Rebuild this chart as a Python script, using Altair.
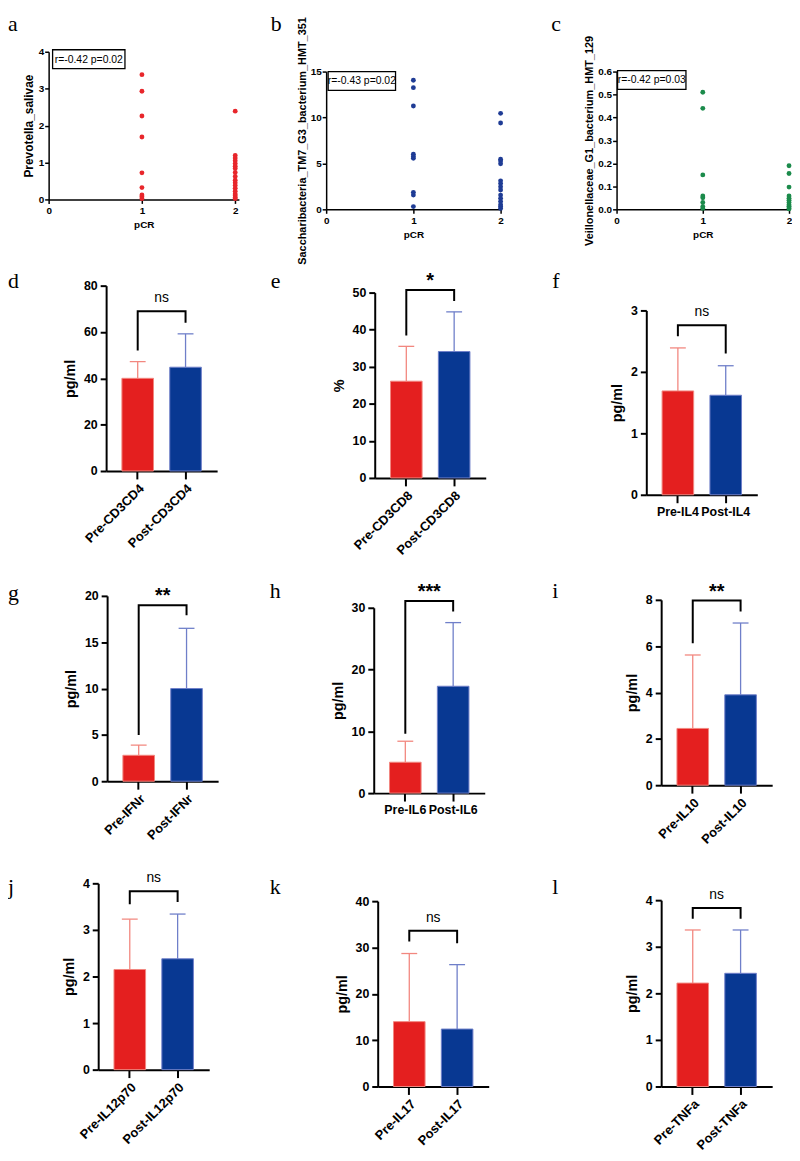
import altair as alt
import pandas as pd

FONT = "Liberation Sans"
SERIF = "Liberation Serif"

RED = "#E41F1F"
BLUE = "#083892"
RED_L = "#F2877F"
BLUE_L = "#6F7FC9"
DOT_COLORS = ["#E8262B", "#1F3C95", "#1B8B4B"]

# ---------------- top row (a-c): scatter values
scatter_letters = ["a", "b", "c"]
scatter_titles = ["Prevotella_salivae",
                  "Saccharibacteria_TM7_G3_bacterium_HMT_351",
                  "Veillonellaceae_G1_bacterium_HMT_129"]
scatter_stats = ["r=-0.42 p=0.02", "r=-0.43 p=0.02", "r=-0.42 p=0.03"]
pcr_ticks = [0, 1, 2]

a_pcr1 = [3.38, 2.93, 2.26, 1.69, 0.72, 0.32, 0.12, 0.07, 0.02]
a_pcr2 = [2.39, 1.19, 1.12, 1.05, 0.97, 0.90, 0.84, 0.73, 0.62, 0.52, 0.45,
          0.38, 0.30, 0.22, 0.15, 0.10, 0.05, 0.02]
b_pcr1 = [14.05, 13.25, 11.25, 6.0, 5.75, 5.55, 1.85, 1.55, 0.3]
b_pcr2 = [10.45, 9.4, 5.45, 5.25, 4.95, 3.1, 2.8, 2.45, 2.1, 1.55, 1.2,
          0.85, 0.5, 0.3, 0.1]
c_pcr1 = [0.51, 0.44, 0.15, 0.058, 0.05, 0.03, 0.012, 0.004]
c_pcr2 = [0.19, 0.156, 0.097, 0.058, 0.048, 0.04, 0.03, 0.02, 0.013,
          0.006, 0.002]

scatter_pcr1 = [a_pcr1, b_pcr1, c_pcr1]
scatter_pcr2 = [a_pcr2, b_pcr2, c_pcr2]
scatter_yticks = [[0, 1, 2, 3, 4], [0, 5, 10, 15],
                  [0.0, 0.1, 0.2, 0.3, 0.4, 0.5, 0.6]]
scatter_ymax = [4, 15, 0.6]
scatter_fmt = [".0f", ".0f", ".1f"]

# ---------------- bar panels (d-l)
bar_letters = ["d", "e", "f", "g", "h", "i", "j", "k", "l"]
pre_labels = ["Pre-CD3CD4", "Pre-CD3CD8", "Pre-IL4", "Pre-IFNr", "Pre-IL6",
              "Pre-IL10", "Pre-IL12p70", "Pre-IL17", "Pre-TNFa"]
post_labels = ["Post-CD3CD4", "Post-CD3CD8", "Post-IL4", "Post-IFNr", "Post-IL6",
               "Post-IL10", "Post-IL12p70", "Post-IL17", "Post-TNFa"]
pre_mean = [40.0, 26.1, 1.69, 2.8, 5.0, 2.45, 2.15, 14.0, 2.22]
post_mean = [44.8, 34.1, 1.62, 10.0, 17.3, 3.9, 2.38, 12.4, 2.43]
pre_upper = [47.2, 35.5, 2.39, 3.9, 8.4, 5.62, 3.23, 28.7, 3.36]
post_upper = [59.2, 44.8, 2.10, 16.5, 27.6, 7.0, 3.34, 26.3, 3.36]
bracket_top = [69.0, 50.7, 2.76, 19.0, 31.1, 7.97, 3.83, 33.6, 3.83]
bracket_left = [52.0, 38.4, 2.58, 5.0, 9.6, 6.13, 3.55, 31.3, 3.6]
bracket_right = [64.0, 47.7, 2.30, 17.9, 29.4, 7.5, 3.6, 30.9, 3.6]
sig_labels = ["ns", "*", "ns", "**", "***", "**", "ns", "ns", "ns"]
y_titles = ["pg/ml", "%", "pg/ml", "pg/ml", "pg/ml", "pg/ml", "pg/ml", "pg/ml", "pg/ml"]
y_max = [80, 50, 3, 20, 30, 8, 4, 40, 4]
y_step = [20, 10, 1, 5, 10, 2, 1, 10, 1]
label_angle = [-45, -45, 0, -45, 0, -45, -45, -45, -45]

GRP_DOMAIN = ["Pre", "Post"]

# ---------------- layout (page pixels)
COL_LEFT = [8, 329, 622]
COL_W = [321, 293, 176]
ROW_TOP = [8, 270, 585, 880]
ROW_H = [262, 315, 295, 211]


def scatter_panel(i, axis_x, W, zero_y, top_y, xmax, title_size, letter_x, box):
    c, r = i, 0
    cl, rt = COL_LEFT[c], ROW_TOP[r]
    PW, PH = COL_W[c], ROW_H[r]
    r0 = axis_x - cl
    hb = zero_y - rt
    yt = top_y - rt
    v1, v2 = scatter_pcr1[i], scatter_pcr2[i]
    df = pd.DataFrame({"pCR": [1] * len(v1) + [2] * len(v2), "value": v1 + v2})
    xax = alt.Axis(values=pcr_ticks, title="pCR", format=".0f", labelFlush=False,
                   labelOverlap=False, labelSeparation=0,
                   domainWidth=1.5, tickWidth=1.5, tickSize=4, labelFontSize=10,
                   labelFontWeight="bold", titleFontSize=10, titleFontWeight="bold",
                   labelPadding=2, titlePadding=4, offset=-(PH - hb))
    yax = alt.Axis(values=scatter_yticks[i], title=scatter_titles[i], format=scatter_fmt[i],
                   labelOverlap=False,
                   domainWidth=1.5, tickWidth=1.5, tickSize=4, labelFontSize=10,
                   labelFontWeight="bold", titleFontSize=title_size,
                   titleFontWeight="bold", labelPadding=1, titlePadding=3, offset=-r0)
    x = alt.X("pCR:Q", scale=alt.Scale(domain=[0, xmax], range=[r0, r0 + W],
                                       nice=False, zero=False), axis=xax)
    y = alt.Y("value:Q", scale=alt.Scale(domain=[0, scatter_ymax[i]], range=[hb, yt],
                                         nice=False), axis=yax)
    sdf = pd.DataFrame({"t": [scatter_stats[i]]})
    ldf = pd.DataFrame({"t": [scatter_letters[i]]})
    bx1, bx2, by1, by2 = [box[0] - cl, box[1] - cl, box[2] - rt, box[3] - rt]
    rect = alt.Chart(sdf).mark_rect(fill="white", stroke="black", strokeWidth=1.3).encode(
        x=alt.value(bx1), x2=alt.value(bx2), y=alt.value(by1), y2=alt.value(by2))
    txt = alt.Chart(sdf).mark_text(font=FONT, fontSize=10.5, baseline="middle").encode(
        x=alt.value((bx1 + bx2) / 2), y=alt.value((by1 + by2) / 2 + 0.5), text="t:N")
    pts = alt.Chart(df).mark_circle(size=24, opacity=1, color=DOT_COLORS[i]).encode(x=x, y=y)
    let = alt.Chart(ldf).mark_text(font=SERIF, fontSize=22, align="left", baseline="top").encode(
        x=alt.value(letter_x - cl), y=alt.value(1), text="t:N")
    return alt.layer(pts, rect, txt, let).properties(width=PW, height=PH)


def bar_panel(i, axis_x, zero_y, top_y, letter_x, letter_y, W=112):
    c, r = i % 3, 1 + i // 3
    cl, rt = COL_LEFT[c], ROW_TOP[r]
    PW, PH = COL_W[c], ROW_H[r]
    r0 = axis_x - cl
    hb = zero_y - rt
    yt = top_y - rt
    cats = [pre_labels[i], post_labels[i]]
    df = pd.DataFrame({"cat": cats, "grp": GRP_DOMAIN,
                       "mean": [pre_mean[i], post_mean[i]],
                       "upper": [pre_upper[i], post_upper[i]]})
    brk = pd.DataFrame({"cat": [cats[0], cats[0], cats[1], cats[1]],
                        "v": [bracket_left[i], bracket_top[i], bracket_top[i], bracket_right[i]],
                        "o": [0, 1, 2, 3]})
    sdf = pd.DataFrame({"t": [sig_labels[i]], "v": [bracket_top[i]]})
    ldf = pd.DataFrame({"t": [bar_letters[i]]})
    ang = label_angle[i]
    xax = alt.Axis(title=None, labelAngle=ang, labelAlign="right" if ang else "center",
                   labelBaseline="top", labelOverlap=False, domainWidth=2, tickWidth=2,
                   tickSize=8, labelFontSize=13 if ang else 12.5, labelFontWeight="bold",
                   labelPadding=3, offset=-(PH - hb))
    yax = alt.Axis(values=list(range(0, y_max[i] + 1, y_step[i])), title=y_titles[i],
                   domainWidth=2, tickWidth=2, tickSize=6, labelFontSize=12.5,
                   labelFontWeight="bold", titleFontSize=14.5, titleFontWeight="bold",
                   labelPadding=3, titlePadding=6, offset=-r0)
    xs = alt.Scale(domain=cats, range=[r0, r0 + W], paddingInner=0.34, paddingOuter=0.33)
    x = alt.X("cat:N", sort=cats, scale=xs, axis=xax)
    ys = alt.Scale(domain=[0, y_max[i]], range=[hb, yt], nice=False, zero=True)
    fill_scale = alt.Scale(domain=GRP_DOMAIN, range=[RED, BLUE])
    light_scale = alt.Scale(domain=GRP_DOMAIN, range=[RED_L, BLUE_L])
    bars = alt.Chart(df).mark_bar(strokeWidth=1).encode(
        x=x, y=alt.Y("mean:Q", scale=ys, axis=yax),
        color=alt.Color("grp:N", scale=fill_scale, legend=None),
        stroke=alt.Stroke("grp:N", scale=light_scale, legend=None))
    err = alt.Chart(df).mark_rule(strokeWidth=1.3).encode(
        x=x, y=alt.Y("mean:Q", scale=ys, axis=yax), y2="upper:Q",
        stroke=alt.Stroke("grp:N", scale=light_scale, legend=None))
    cap = alt.Chart(df).mark_tick(size=16, thickness=1.3, opacity=1).encode(
        x=x, y=alt.Y("upper:Q", scale=ys, axis=yax),
        fill=alt.Fill("grp:N", scale=light_scale, legend=None))
    line = alt.Chart(brk).mark_line(color="black", strokeWidth=2, strokeJoin="miter",
                                    strokeCap="butt").encode(
        x=x, y=alt.Y("v:Q", scale=ys, axis=yax), order="o:Q")
    is_ns = sig_labels[i] == "ns"
    sig = alt.Chart(sdf).mark_text(
        font=FONT, fontSize=14 if is_ns else 20, fontWeight="normal" if is_ns else "bold",
        baseline="alphabetic", dy=-9 if is_ns else -3).encode(
        x=alt.value(r0 + W / 2), y=alt.Y("v:Q", scale=ys, axis=yax), text="t:N")
    let = alt.Chart(ldf).mark_text(font=SERIF, fontSize=22, align="left",
                                   baseline="alphabetic").encode(
        x=alt.value(letter_x - cl), y=alt.value(letter_y - rt), text="t:N")
    return alt.layer(bars, err, cap, line, sig, let).properties(width=PW, height=PH)


items = [
    scatter_panel(0, 49, 192, 196, 47, 2.04, 12, 8, (53, 126, 45, 64)),
    scatter_panel(1, 329, 176, 206, 67, 2.0, 11, 273, (331, 399, 67, 86)),
    scatter_panel(2, 622, 174, 206, 67, 2.0, 11, 556, (623, 692, 66, 85)),

    bar_panel(0, 107, 470, 283, 8, 285),
    bar_panel(1, 378, 477, 290, 273, 285),
    bar_panel(2, 652, 494, 308, 557, 285),

    bar_panel(3, 108, 783, 596, 8, 600),
    bar_panel(4, 377, 795, 608, 272, 598),
    bar_panel(5, 667, 787, 600, 557, 598),

    bar_panel(6, 99, 1074, 886, 8, 897),
    bar_panel(7, 381, 1091, 904, 272, 897),
    bar_panel(8, 667, 1091, 903, 557, 897),
]

chart = alt.concat(
    *items, columns=3, spacing=0, bounds="flush", align="each", padding=0
).configure(font=FONT).configure_view(stroke=None).configure_axis(
    grid=False, labelColor="black", titleColor="black", domainColor="black",
    tickColor="black", labelFont=FONT, titleFont=FONT
)

chart.save("out.html", embed_options={"renderer": "svg", "actions": False})
